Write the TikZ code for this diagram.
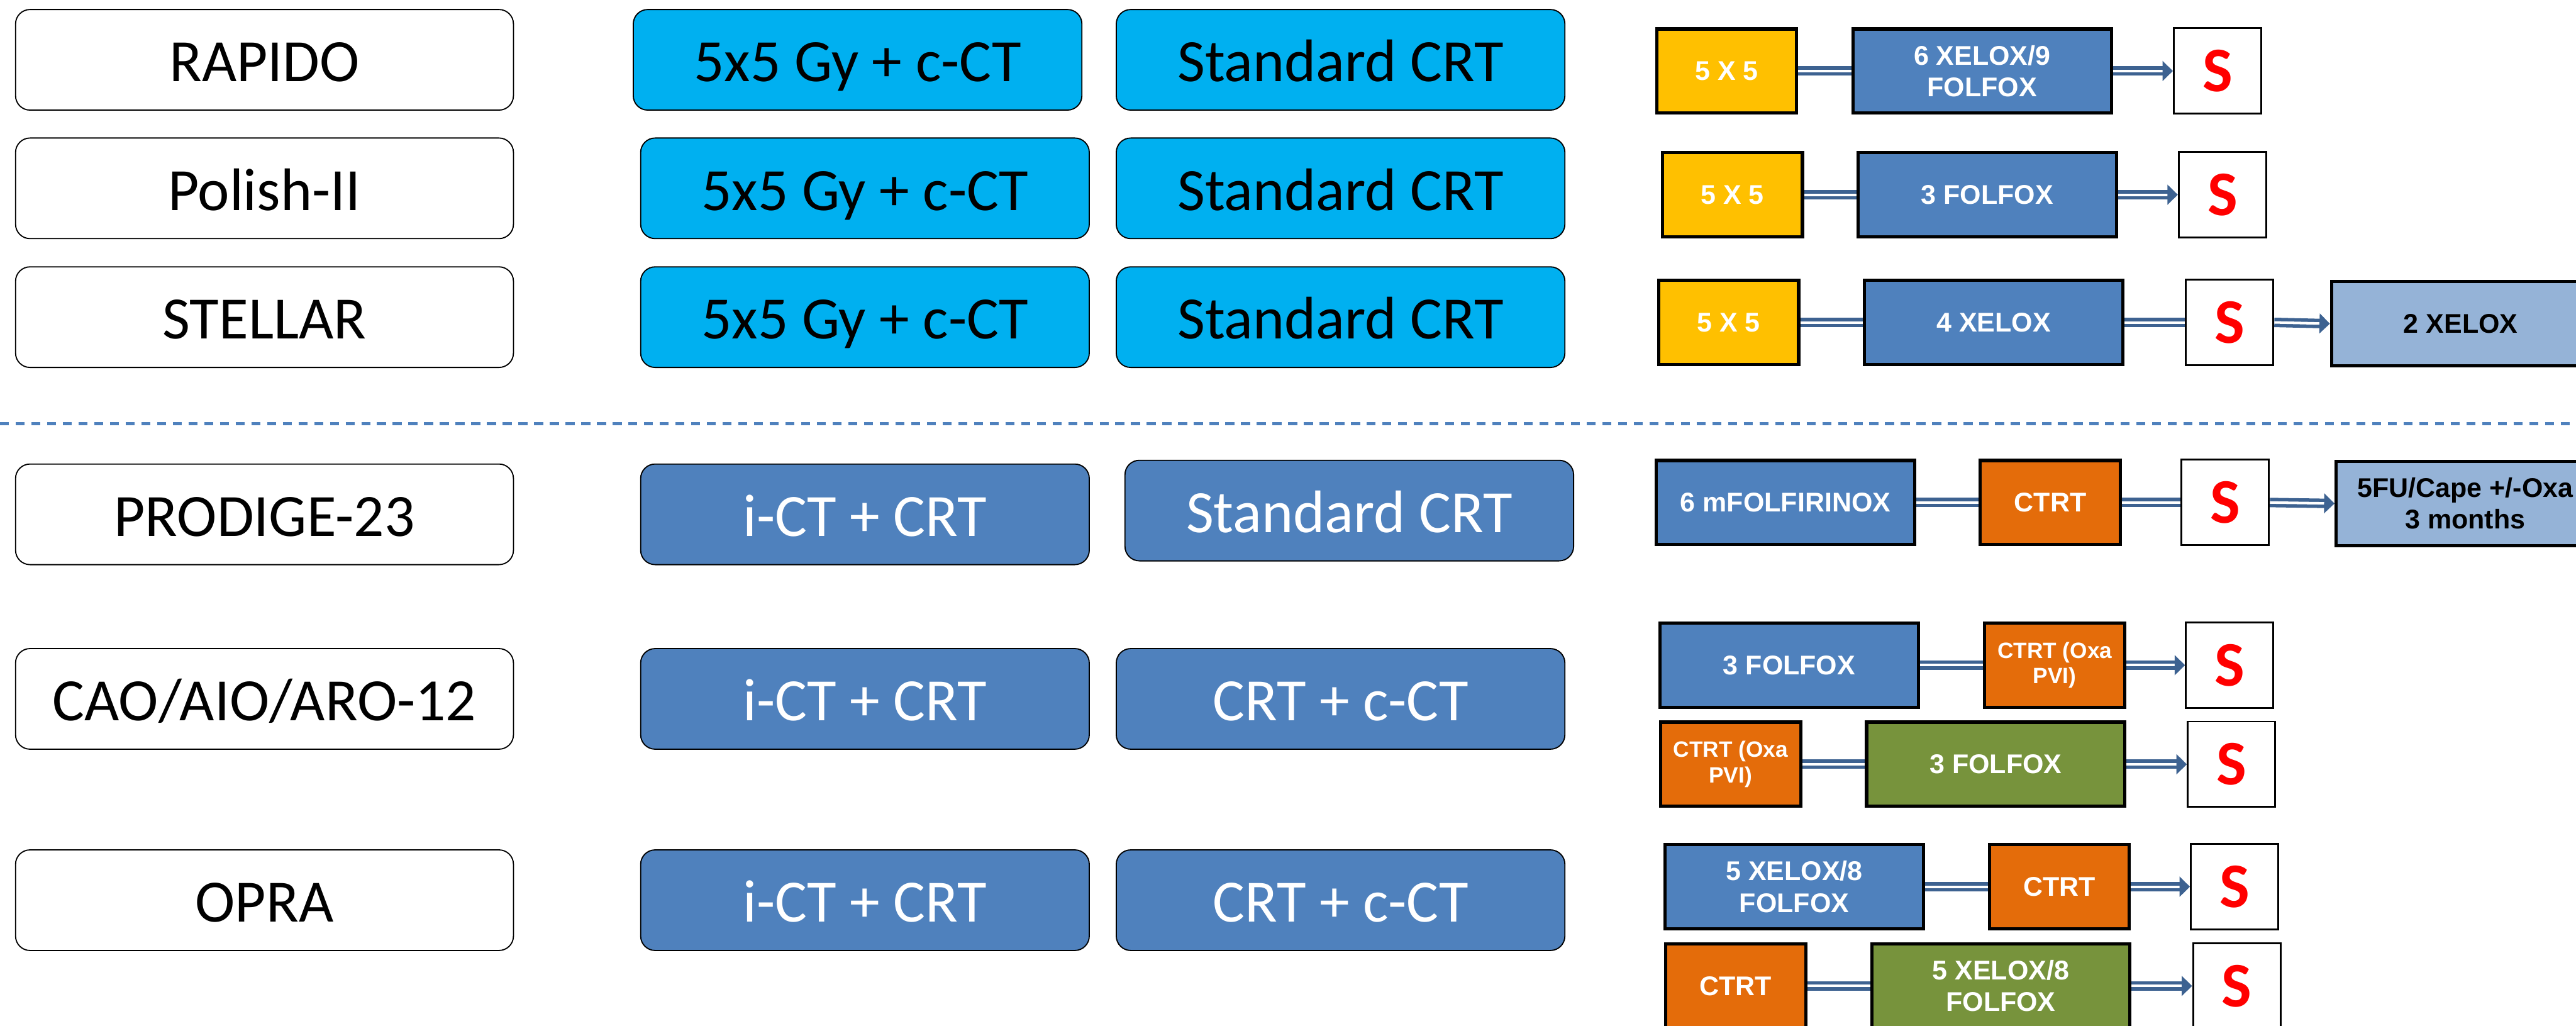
\documentclass[tikz,border=0pt]{standalone}
\usepackage{fontspec}
\setmainfont{Carlito}
\newfontfamily\arialfont{Liberation Sans}
\usetikzlibrary{arrows.meta}

\definecolor{trialcyan}{HTML}{00B0F0}
\definecolor{trialblue}{HTML}{4F81BD}
\definecolor{stepyellow}{HTML}{FFC000}
\definecolor{steporange}{HTML}{E46C0A}
\definecolor{stepgreen}{HTML}{77933C}
\definecolor{steplight}{HTML}{95B3D7}
\definecolor{linkblue}{HTML}{3D6291}

\tikzset{
  trial/.style={rectangle, rounded corners=0.22cm, draw=black, line width=0.5pt, inner sep=0pt,
    minimum width=7.575cm, minimum height=1.53cm, text height=0.665cm, text depth=0pt,
    font=\fontsize{26}{31}\selectfont},
  armcyan/.style={trial, fill=trialcyan, minimum width=6.825cm},
  armblue/.style={trial, fill=trialblue, text=white, minimum width=6.825cm},
  stepbox/.style={rectangle, draw=black, line width=1.4pt, minimum height=1.28cm, align=center,
    text=white, inner sep=0pt, font=\arialfont\bfseries\fontsize{11.7}{13.7}\selectfont},
  wide/.style={stepbox, minimum width=3.93cm},
  narrow/.style={stepbox, minimum width=2.13cm},
  smalltext/.style={font=\arialfont\bfseries\fontsize{9.6}{11}\selectfont},
  surg/.style={rectangle, draw=black, line width=0.8pt, minimum width=1.33cm, minimum height=1.3cm,
    text=red, font=\bfseries\fontsize{27.5}{30}\selectfont},
  link/.style={draw=linkblue, line width=1.5pt, double=white, double distance=1.1pt},
  linkarrow/.style={link, -{Triangle[length=4.5pt,width=8.5pt]}},
  sepline/.style={draw=trialblue, line width=1.2pt, dash pattern=on 3.9pt off 2.9pt}
}

\begin{document}
\begin{tikzpicture}[x=0.025cm, y=-0.025cm]
  \clip (0,0) rectangle (1568,624);

  \node[trial] (rapido) at (161,36.4) {RAPIDO};
  \node[trial] (polish) at (161,114.6) {Polish-II};
  \node[trial] (stellar) at (161,193) {STELLAR};
  \node[trial] (prodige) at (161,313) {PRODIGE-23};
  \node[trial] (cao) at (161,425.3) {CAO/AIO/ARO-12};
  \node[trial] (opra) at (161,547.8) {OPRA};

  \node[armcyan] (rapidoexp) at (522,36.4) {5x5 Gy + c-CT};
  \node[armcyan] (rapidostd) at (816,36.4) {Standard CRT};
  \node[armcyan] (polishexp) at (526.5,114.6) {5x5 Gy + c-CT};
  \node[armcyan] (polishstd) at (816,114.6) {Standard CRT};
  \node[armcyan] (stellarexp) at (526.5,193) {5x5 Gy + c-CT};
  \node[armcyan] (stellarstd) at (816,193) {Standard CRT};
  \node[armblue] (prodigeexp) at (526.5,313) {i-CT + CRT};
  \node[armblue] (prodigestd) at (821.3,310.7) {Standard CRT};
  \node[armblue] (caoexp) at (526.5,425.3) {i-CT + CRT};
  \node[armblue] (caostd) at (816,425.3) {CRT + c-CT};
  \node[armblue] (opraexp) at (526.5,547.8) {i-CT + CRT};
  \node[armblue] (oprastd) at (816,547.8) {CRT + c-CT};

  \draw[sepline] (0,257.8) -- (1568,257.8);

  \node[narrow, fill=stepyellow] (rap1) at (1051,43.2) {5 X 5};
  \node[wide, fill=trialblue] (rap2) at (1206.5,43.2) {6 XELOX/9\\FOLFOX};
  \node[surg] (rapS) at (1349.8,43.2) {S};
  \draw[link] (rap1.east) -- (rap2.west);
  \draw[linkarrow] (rap2.east) -- (rapS.west);

  \node[narrow, fill=stepyellow] (pol1) at (1054.5,118.5) {5 X 5};
  \node[wide, fill=trialblue] (pol2) at (1209.6,118.5) {3 FOLFOX};
  \node[surg] (polS) at (1352.8,118.5) {S};
  \draw[link] (pol1.east) -- (pol2.west);
  \draw[linkarrow] (pol2.east) -- (polS.west);

  \node[narrow, fill=stepyellow] (ste1) at (1052.2,196.2) {5 X 5};
  \node[wide, fill=trialblue] (ste2) at (1213.6,196.2) {4 XELOX};
  \node[surg] (steS) at (1357.2,196.2) {S};
  \node[wide, fill=steplight, text=black] (ste3) at (1497.8,197) {2 XELOX};
  \draw[link] (ste1.east) -- (ste2.west);
  \draw[link] (ste2.east) -- (steS.west);
  \draw[linkarrow] (steS.east) -- (ste3.west);

  \node[wide, fill=trialblue] (pro1) at (1086.8,305.8) {6 mFOLFIRINOX};
  \node[narrow, fill=steporange] (pro2) at (1248,305.8) {CTRT};
  \node[surg] (proS) at (1354.5,305.8) {S};
  \node[wide, fill=steplight, text=black] (pro3) at (1500.6,306.4) {5FU/Cape +/-Oxa\\3 months};
  \draw[link] (pro1.east) -- (pro2.west);
  \draw[link] (pro2.east) -- (proS.west);
  \draw[linkarrow] (proS.east) -- (pro3.west);

  \node[wide, fill=trialblue] (cao1) at (1089.1,404.8) {3 FOLFOX};
  \node[narrow, smalltext, fill=steporange] (cao2) at (1250.7,404.8) {CTRT (Oxa\\PVI)};
  \node[surg] (caoS) at (1357.2,404.8) {S};
  \draw[link] (cao1.east) -- (cao2.west);
  \draw[linkarrow] (cao2.east) -- (caoS.west);

  \node[narrow, smalltext, fill=steporange] (cao3) at (1053.4,465.1) {CTRT (Oxa\\PVI)};
  \node[wide, fill=stepgreen] (cao4) at (1214.8,465.1) {3 FOLFOX};
  \node[surg] (caoT) at (1358.3,465.1) {S};
  \draw[link] (cao3.east) -- (cao4.west);
  \draw[linkarrow] (cao4.east) -- (caoT.west);

  \node[wide, fill=trialblue] (opr1) at (1092.2,539.6) {5 XELOX/8\\FOLFOX};
  \node[narrow, fill=steporange] (opr2) at (1253.5,539.6) {CTRT};
  \node[surg] (oprS) at (1360.2,539.6) {S};
  \draw[link] (opr1.east) -- (opr2.west);
  \draw[linkarrow] (opr2.east) -- (oprS.west);

  \node[narrow, fill=steporange] (opr3) at (1056.5,600) {CTRT};
  \node[wide, fill=stepgreen] (opr4) at (1217.9,600) {5 XELOX/8\\FOLFOX};
  \node[surg] (oprT) at (1361.5,600) {S};
  \draw[link] (opr3.east) -- (opr4.west);
  \draw[linkarrow] (opr4.east) -- (oprT.west);
\end{tikzpicture}
\end{document}
